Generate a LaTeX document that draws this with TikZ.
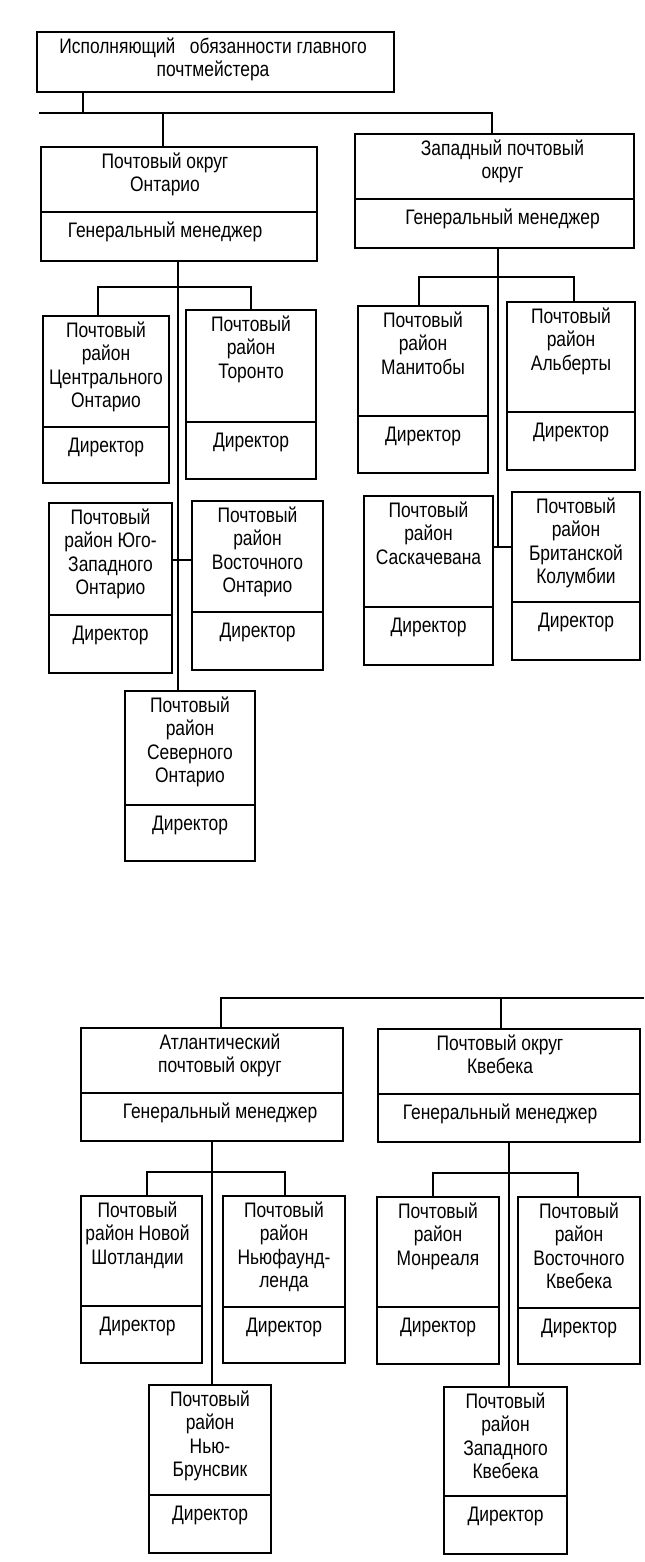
\documentclass[tikz,border=0pt]{standalone}
\usepackage{fontspec}
\setmainfont{Liberation Sans}[FakeStretch=0.83]
\tikzset{
  box/.style={draw, line width=1pt, rectangle, inner sep=0pt},
  ln/.style={line width=1pt},
  txt/.style={align=center, inner sep=0pt, font=\fontsize{15.75pt}{17.5pt}\selectfont},
}
% name, left, top, right, bottom, divider, upper text, lower text, text x-shift
\newcommand\orgbox[9]{%
  \pgfmathsetmacro\obw{(#4-#2)*0.75}%
  \pgfmathsetmacro\obh{(#5-#3)*0.75}%
  \node[box, minimum width=\obw pt, minimum height=\obh pt] (#1) at ({(#2+#4)/2},{(#3+#5)/2}) {};
  \draw[ln] (#2,#6) -- (#4,#6);
  \node[txt, anchor=north] (#1-t) at ({(#2+#4)/2+(#9)},{#3+5}) {\strut #7};
  \node[txt] (#1-d) at ({(#2+#4)/2+(#9)},{#6+20}) {#8};
}
\begin{document}
\begin{tikzpicture}[x=0.75pt,y=-0.75pt]
\useasboundingbox (0,0) rectangle (644,1562);

% ---------- top part ----------
\node[box, minimum width=267.75pt, minimum height=45pt] (top) at (215.5,62) {};
\node[txt, anchor=north] (top-t) at (213,37) {\strut Исполняющий\ \ \ обязанности главного\\почтмейстера};

\orgbox{ont}{41}{147}{317}{261}{212}{Почтовый округ\\Онтарио}{Генеральный менеджер}{-14}
\orgbox{west}{355}{134}{634}{248}{199}{Западный почтовый\\округ}{Генеральный менеджер}{8}

\orgbox{cent}{43}{316}{169}{483}{427}{Почтовый\\район\\Центрального\\Онтарио}{Директор}{0}
\orgbox{tor}{186}{310}{316}{479}{422}{Почтовый\\район\\Торонто}{Директор}{0}
\orgbox{yugo}{49}{503}{172}{673}{615}{Почтовый\\район Юго-\\Западного\\Онтарио}{Директор}{0}
\orgbox{vost}{192}{501}{323}{670}{612}{Почтовый\\район\\Восточного\\Онтарио}{Директор}{0}
\orgbox{sev}{125}{691}{255}{861}{805}{Почтовый\\район\\Северного\\Онтарио}{Директор}{0}

\orgbox{man}{358}{306}{488}{473}{416}{Почтовый\\район\\Манитобы}{Директор}{0}
\orgbox{alb}{507}{302}{635}{470}{412}{Почтовый\\район\\Альберты}{Директор}{0}
\orgbox{sask}{364}{496}{493}{665}{607}{Почтовый\\район\\Саскачевана}{Директор}{0}
\orgbox{brit}{512}{492}{640}{660}{602}{Почтовый\\район\\Британской\\Колумбии}{Директор}{0}

% connectors, top part
\coordinate (b0) at (39,113);
\coordinate (b1) at (492,113);
\coordinate (j0) at (83,113);
\coordinate (j1) at (163,113);
\draw[ln] (j0 |- top.south) -- (j0);
\draw[ln] (b0) -- (b1) -- (b1 |- west.north);
\draw[ln] (j1) -- (j1 |- ont.north);

\coordinate (tO) at (178,287);
\coordinate (oL) at (98,287);
\coordinate (oR) at (251,287);
\draw[ln] (tO |- ont.south) -- (tO |- sev.north);
\draw[ln] (oL |- cent.north) -- (oL) -- (oR) -- (oR |- tor.north);
\coordinate (hO) at (178,560);
\draw[ln] (yugo.east |- hO) -- (vost.west |- hO);

\coordinate (hW) at (498,547);
\coordinate (wL) at (419,277);
\coordinate (wR) at (574,277);
\draw[ln] (hW |- west.south) -- (hW);
\draw[ln] (wL |- man.north) -- (wL) -- (wR) -- (wR |- alb.north);
\draw[ln] (sask.east |- hW) -- (brit.west |- hW);

% ---------- lower part ----------
\orgbox{atl}{81}{1028}{343}{1141}{1093}{Атлантический\\почтовый округ}{Генеральный менеджер}{8}
\orgbox{queb}{378}{1029}{640}{1142}{1094}{Почтовый округ\\Квебека}{Генеральный менеджер}{-9}

\orgbox{nsh}{81}{1196}{202}{1363}{1306}{Почтовый\\район Новой\\Шотландии}{Директор}{-4}
\orgbox{nfl}{223}{1196}{345}{1363}{1307}{Почтовый\\район\\Ньюфаунд-\\ленда}{Директор}{0}
\orgbox{monr}{377}{1197}{499}{1364}{1307}{Почтовый\\район\\Монреаля}{Директор}{0}
\orgbox{vkv}{518}{1197}{640}{1364}{1308}{Почтовый\\район\\Восточного\\Квебека}{Директор}{0}
\orgbox{nbr}{149}{1385}{271}{1553}{1495}{Почтовый\\район\\Нью-\\Брунсвик}{Директор}{0}
\orgbox{zkv}{444}{1387}{567}{1554}{1496}{Почтовый\\район\\Западного\\Квебека}{Директор}{0}

\coordinate (c0) at (221,998);
\coordinate (c1) at (644,998);
\coordinate (c2) at (501,998);
\draw[ln] (c0 |- atl.north) -- (c0) -- (c1);
\draw[ln] (c2) -- (c2 |- queb.north);

\coordinate (tA) at (212,1172);
\coordinate (aL) at (147,1172);
\coordinate (aR) at (285,1172);
\draw[ln] (tA |- atl.south) -- (tA |- nbr.north);
\draw[ln] (aL |- nsh.north) -- (aL) -- (aR) -- (aR |- nfl.north);

\coordinate (tQ) at (509,1173);
\coordinate (qL) at (433,1173);
\coordinate (qR) at (578,1173);
\draw[ln] (tQ |- queb.south) -- (tQ |- zkv.north);
\draw[ln] (qL |- monr.north) -- (qL) -- (qR) -- (qR |- vkv.north);
\end{tikzpicture}
\end{document}
